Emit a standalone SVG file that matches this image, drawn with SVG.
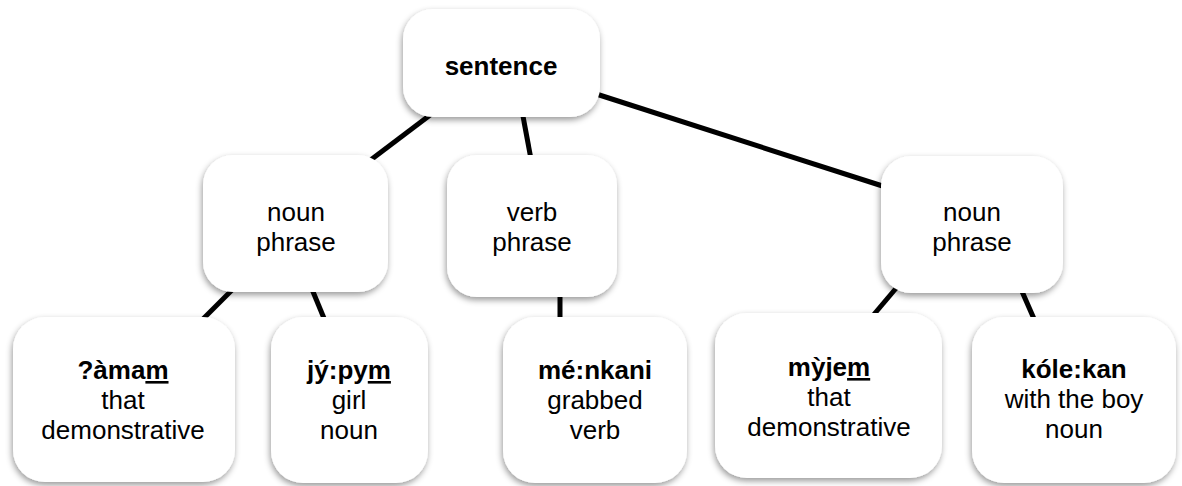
<svg xmlns="http://www.w3.org/2000/svg" width="1182" height="486" viewBox="0 0 1182 486">
  <defs>
    <filter id="sh" x="-20%" y="-20%" width="140%" height="150%">
      <feDropShadow dx="-1" dy="3" stdDeviation="3" flood-color="#000" flood-opacity="0.4"/>
    </filter>
    <style>
      .box { fill: #ffffff; filter: url(#sh); }
      .t { font-family: "Liberation Sans", Arial, Helvetica, sans-serif; font-size: 26px; fill: #000; text-anchor: middle; }
      .b { font-weight: bold; }
      .u { text-decoration: underline; }
      .edge { stroke: #000; stroke-width: 5; fill: none; stroke-linecap: butt; }
    </style>
  </defs>
  <rect width="1182" height="486" fill="#ffffff"/>

  <g id="connectors">
    <line class="edge" x1="450" y1="100" x2="360" y2="168"/>
    <line class="edge" x1="520" y1="100" x2="533" y2="170"/>
    <line class="edge" x1="590" y1="92" x2="895" y2="190"/>
    <line class="edge" x1="240" y1="282" x2="195" y2="327"/>
    <line class="edge" x1="309" y1="282" x2="328" y2="328"/>
    <line class="edge" x1="560" y1="285" x2="560" y2="330"/>
    <line class="edge" x1="903" y1="280" x2="865" y2="325"/>
    <line class="edge" x1="1017" y1="280" x2="1038" y2="328"/>
  </g>

  <g id="sentence">
    <rect class="box" x="403" y="9" width="197" height="108" rx="30"/>
    <text class="t b" x="501" y="75">sentence</text>
  </g>

  <g id="np-left">
    <rect class="box" x="203" y="155" width="185" height="137" rx="30"/>
    <text class="t" x="296" y="221">noun</text>
    <text class="t" x="296" y="251">phrase</text>
  </g>

  <g id="vp">
    <rect class="box" x="447" y="155" width="170" height="142" rx="30"/>
    <text class="t" x="532" y="221">verb</text>
    <text class="t" x="532" y="251">phrase</text>
  </g>

  <g id="np-right">
    <rect class="box" x="881" y="156" width="182" height="137" rx="30"/>
    <text class="t" x="972" y="221">noun</text>
    <text class="t" x="972" y="251">phrase</text>
  </g>

  <g id="aamam">
    <rect class="box" x="13" y="317" width="222" height="165" rx="32"/>
    <text class="t b" x="123" y="379">?àma<tspan class="u">m</tspan></text>
    <text class="t" x="123" y="409">that</text>
    <text class="t" x="123" y="439">demonstrative</text>
  </g>

  <g id="jypym">
    <rect class="box" x="271" y="317" width="157" height="166" rx="32"/>
    <text class="t b" x="349" y="379">jý:py<tspan class="u">m</tspan></text>
    <text class="t" x="349" y="409">girl</text>
    <text class="t" x="349" y="439">noun</text>
  </g>

  <g id="menkani">
    <rect class="box" x="503" y="317" width="184" height="166" rx="32"/>
    <text class="t b" x="595" y="379">mé:nkani</text>
    <text class="t" x="595" y="409">grabbed</text>
    <text class="t" x="595" y="439">verb</text>
  </g>

  <g id="myjem">
    <rect class="box" x="715" y="313" width="227" height="165" rx="32"/>
    <text class="t b" x="829" y="376">mỳje<tspan class="u">m</tspan></text>
    <text class="t" x="829" y="406">that</text>
    <text class="t" x="829" y="436">demonstrative</text>
  </g>

  <g id="kolekan">
    <rect class="box" x="972" y="317" width="204" height="166" rx="32"/>
    <text class="t b" x="1074" y="378">kóle:kan</text>
    <text class="t" x="1074" y="408">with the boy</text>
    <text class="t" x="1074" y="438">noun</text>
  </g>
</svg>
